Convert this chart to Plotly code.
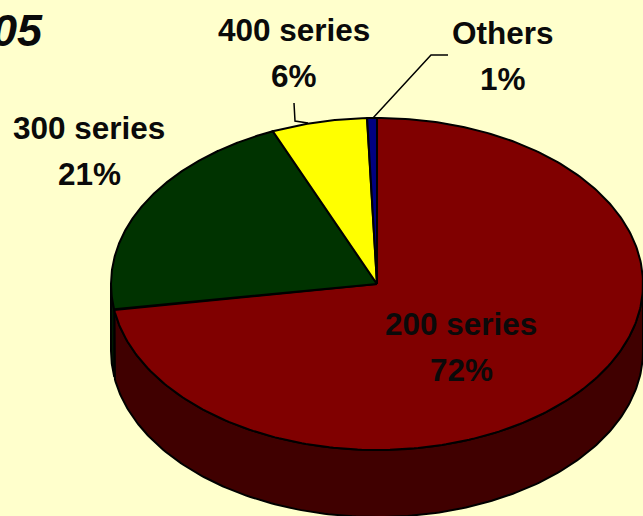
import numpy as np
import plotly.graph_objects as go

categories = ["200 series", "300 series", "400 series", "Others"]
values = [72.5, 21.1, 5.8, 0.6]
percent_labels = ["72%", "21%", "6%", "1%"]
top_colors = ["#800000", "#003300", "#FFFF00", "#000080"]
wall_colors = ["#400000", "#001A00", "#808000", "#000040"]
label_x = [461, 89, 294, 503]
label_y = [347, 151, 53, 56]

CX, CY, RX, RY, DEPTH = 377, 284, 266, 166, 67
BG = "#FFFFCC"


def rim(t):
    return CX + RX * np.sin(t), CY - RY * np.cos(t)


fig = go.Figure()
edges = np.cumsum([0] + values) / sum(values) * 2 * np.pi

# Side wall: only the front half of the rim (90 to 270 degrees clockwise from top)
for i in range(len(values)):
    a, b = max(edges[i], np.pi / 2), min(edges[i + 1], 3 * np.pi / 2)
    if a >= b:
        continue
    t = np.linspace(a, b, 200)
    x, y = rim(t)
    fig.add_trace(go.Scatter(
        x=np.r_[x, x[::-1], x[0]], y=np.r_[y, y[::-1] + DEPTH, y[0]],
        mode="lines", fill="toself", fillcolor=wall_colors[i],
        line=dict(color="black", width=2), hoverinfo="skip"))

# Top face
for i in range(len(values)):
    t = np.linspace(edges[i], edges[i + 1], 300)
    x, y = rim(t)
    fig.add_trace(go.Scatter(
        x=np.r_[CX, x, CX], y=np.r_[CY, y, CY],
        mode="lines", fill="toself", fillcolor=top_colors[i],
        line=dict(color="black", width=2), name=categories[i], hoverinfo="skip"))

# Leader lines
fig.add_shape(type="path", path="M 294 103 L 295 121 L 308 123",
              line=dict(color="black", width=1.5), xref="x", yref="y")
fig.add_shape(type="path", path="M 373 118 L 431 55 L 448 55",
              line=dict(color="black", width=1.5), xref="x", yref="y")

for c, p, lx, ly in zip(categories, percent_labels, label_x, label_y):
    for txt, yy in ((c, ly - 23), (p, ly + 23)):
        fig.add_annotation(x=lx, y=yy, text="<b>" + txt + "</b>", showarrow=False,
                           xanchor="center", yanchor="middle",
                           font=dict(family="Liberation Sans", size=31.5, color="#0A0A0A"))

fig.add_annotation(x=45, y=30, text="<b><i>05</i></b>", showarrow=False,
                   xanchor="right", yanchor="middle",
                   font=dict(family="Liberation Sans", size=45, color="#0A0A0A"))

fig.update_layout(
    width=643, height=516, margin=dict(l=0, r=0, t=0, b=0),
    paper_bgcolor=BG, plot_bgcolor=BG, showlegend=False,
    xaxis=dict(range=[0, 643], visible=False, fixedrange=True),
    yaxis=dict(range=[516, 0], visible=False, fixedrange=True),
)
fig.write_html(
    "out.html",
    config={"displayModeBar": False},
    post_script="document.body.style.margin='0';document.body.style.overflow='hidden';"
                "document.body.style.background='#FFFFCC';",
)
